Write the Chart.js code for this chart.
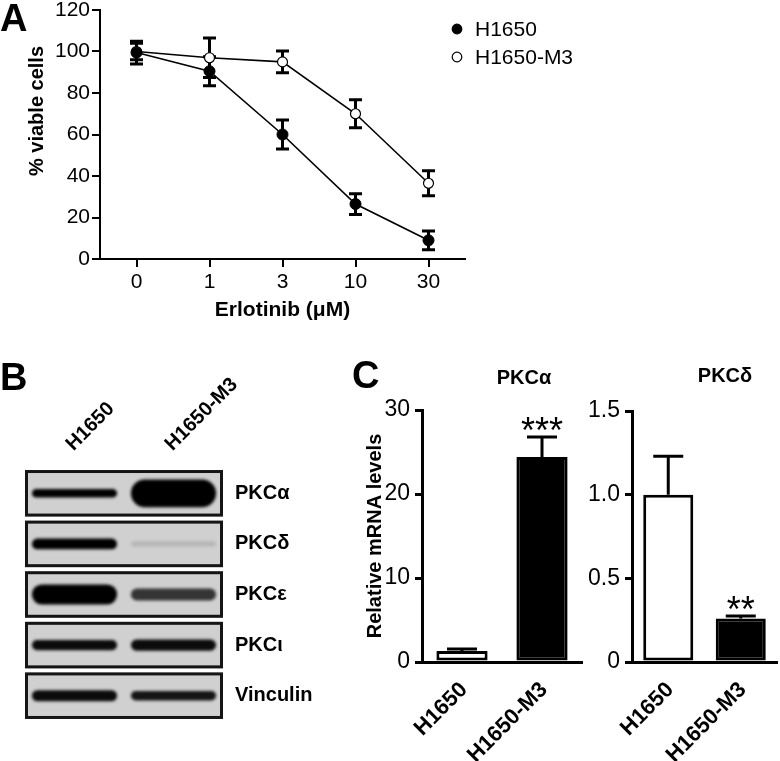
<!DOCTYPE html>
<html>
<head>
<meta charset="utf-8">
<script src="https://cdn.jsdelivr.net/npm/chart.js@4.4.1/dist/chart.umd.min.js"></script>
<style>
  body { margin: 0; background: #fff; }
  #fig { position: relative; width: 780px; height: 761px; overflow: hidden; font-family: "Liberation Sans", Arial, sans-serif; }
  canvas { position: absolute; }
  .letter { position: absolute; font-weight: bold; font-size: 38px; line-height: 1; }
  .ttl { position: absolute; font-weight: bold; font-size: 20px; line-height: 1; transform: translateX(-50%); white-space: nowrap; }
  .ytl { position: absolute; font-weight: bold; font-size: 20px; line-height: 1; white-space: nowrap; transform: translate(-50%, -50%) rotate(-90deg); }
</style>
</head>
<body>
<div id="fig">
  <canvas id="chartA" width="780" height="330" style="left:0;top:0"></canvas>
  <canvas id="chartB" width="350" height="431" style="left:0;top:330px"></canvas>
  <canvas id="chartC1" width="250" height="431" style="left:345px;top:330px"></canvas>
  <canvas id="chartC2" width="210" height="431" style="left:570px;top:330px"></canvas>
  <div class="letter" style="left:0;top:-1px">A</div>
  <div class="letter" style="left:0;top:358px">B</div>
  <div class="letter" style="left:352px;top:356px">C</div>
  <div class="ytl" style="left:36px;top:111px">% viable cells</div>
  <div class="ttl" style="left:524px;top:367px">PKCα</div>
  <div class="ttl" style="left:725px;top:365px">PKCδ</div>
</div>
<script>
// panel A: dose response
const doses = ['0', '1', '3', '10', '30'];
const viabH1650 = [99.5, 90.5, 60, 26.5, 9];
const errH1650 = [5.5, 7, 7, 5, 4.5];
const viabM3 = [100, 97, 95, 70, 36.5];
const errM3 = [4, 9.5, 5.3, 6.7, 6];

// panel B: western blot bands (thickness in row units, darkness 0-1)
const lanes = ['H1650', 'H1650-M3'];
const proteins = ['PKCα', 'PKCδ', 'PKCε', 'PKCι', 'Vinculin'];
const bandThickH1650 = [0.17, 0.21, 0.40, 0.20, 0.22];
const bandThickM3 = [0.55, 0.10, 0.24, 0.22, 0.19];
const bandDarkH1650 = [1, 1, 1, 0.95, 0.95];
const bandDarkM3 = [1, 0.12, 0.75, 0.95, 0.9];

// panel C: relative mRNA
const cellLines = ['H1650', 'H1650-M3'];
const pkcaMrna = [1.3, 24.4];
const pkcaErr = [0.25, 2.4];
const pkcaStars = ['', '***'];
const pkcdMrna = [1.0, 0.26];
const pkcdErr = [0.23, 0.015];
const pkcdStars = ['', '**'];

Chart.defaults.font.family = '"Liberation Sans", Arial, sans-serif';
Chart.defaults.color = '#000';
Chart.defaults.animation = false;

function noPad(s) { s.paddingTop = 0; s.paddingBottom = 0; s.paddingLeft = 0; s.paddingRight = 0; }
function rot45(s) { s.labelRotation = 45; }

const errorBars = {
  id: 'errorBars',
  beforeDatasetsDraw(chart, args, opts) {
    const ctx = chart.ctx;
    ctx.save();
    ctx.strokeStyle = '#000';
    ctx.fillStyle = '#000';
    ctx.lineWidth = opts.lineWidth;
    chart.data.datasets.forEach((ds, i) => {
      if (!ds.errors) return;
      const meta = chart.getDatasetMeta(i);
      const ys = chart.scales[meta.yAxisID];
      meta.data.forEach((el, j) => {
        const v = ds.data[j], e = ds.errors[j];
        const x = el.x;
        const top = ys.getPixelForValue(v + e);
        const bot = ys.getPixelForValue(opts.upOnly ? v : v - e);
        ctx.beginPath();
        ctx.moveTo(x, bot); ctx.lineTo(x, top);
        ctx.moveTo(x - opts.cap, top); ctx.lineTo(x + opts.cap, top);
        if (!opts.upOnly) { ctx.moveTo(x - opts.cap, bot); ctx.lineTo(x + opts.cap, bot); }
        ctx.stroke();
        if (ds.stars && ds.stars[j]) {
          ctx.font = '36px "Liberation Sans", Arial, sans-serif';
          ctx.textAlign = 'center';
          ctx.textBaseline = 'alphabetic';
          ctx.fillText(ds.stars[j], x, top + 6);
        }
      });
    });
    ctx.restore();
  }
};

const sideLegend = {
  id: 'sideLegend',
  afterDraw(chart, args, opts) {
    const ctx = chart.ctx;
    ctx.save();
    chart.data.datasets.forEach((ds, i) => {
      const y = opts.y + i * opts.gap;
      ctx.beginPath();
      ctx.arc(opts.x, y, 4.8, 0, Math.PI * 2);
      ctx.fillStyle = ds.pointBackgroundColor;
      ctx.fill();
      ctx.lineWidth = 1.2;
      ctx.strokeStyle = '#000';
      ctx.stroke();
      ctx.fillStyle = '#000';
      ctx.font = '21px "Liberation Sans", Arial, sans-serif';
      ctx.textBaseline = 'middle';
      ctx.fillText(ds.label, opts.x + 18, y + 1);
    });
    ctx.restore();
  }
};

// panel A
new Chart(document.getElementById('chartA'), {
  type: 'line',
  data: {
    labels: doses,
    datasets: [
      { label: 'H1650', data: viabH1650, errors: errH1650, borderColor: '#000', borderWidth: 1.6,
        pointRadius: 5.5, pointBackgroundColor: '#000', pointBorderColor: '#000', pointBorderWidth: 1 },
      { label: 'H1650-M3', data: viabM3, errors: errM3, borderColor: '#000', borderWidth: 1.6,
        pointRadius: 5, pointBackgroundColor: '#fff', pointBorderColor: '#000', pointBorderWidth: 1.2 }
    ]
  },
  options: {
    responsive: false,
    layout: { padding: { top: 10, right: 315, left: 0, bottom: 0 }, autoPadding: false },
    plugins: {
      legend: { display: false },
      tooltip: { enabled: false },
      errorBars: { lineWidth: 3, cap: 6.5, upOnly: false },
      sideLegend: { x: 457, y: 29, gap: 28 }
    },
    scales: {
      x: {
        offset: true,
        grid: { display: true, drawOnChartArea: false, tickLength: 8, color: '#000', lineWidth: 2, offset: false },
        border: { color: '#000', width: 2 },
        ticks: { font: { size: 21 }, padding: 3, maxRotation: 0 },
        title: { display: true, text: 'Erlotinib (μM)', font: { size: 21, weight: 'bold' }, padding: { top: 0, bottom: 7 } },
        afterFit(s) { s.height = 71; noPad(s); }
      },
      y: {
        min: 0, max: 120,
        grid: { display: true, drawOnChartArea: false, tickLength: 8, color: '#000', lineWidth: 2 },
        border: { color: '#000', width: 2 },
        ticks: { stepSize: 20, font: { size: 21 }, padding: 2 },
        afterFit(s) { s.width = 100; noPad(s); }
      }
    }
  },
  plugins: [errorBars, sideLegend]
});

// panel B
const blotFrames = {
  id: 'blotFrames',
  beforeDatasetsDraw(chart) {
    const { ctx, chartArea, scales: { y } } = chart;
    ctx.save();
    ctx.fillStyle = '#d0d0d0';
    proteins.forEach((p, r) => {
      const t = y.getPixelForValue(r + 0.04), b = y.getPixelForValue(r + 0.96);
      ctx.fillRect(chartArea.left, t, chartArea.right - chartArea.left, b - t);
    });
    ctx.restore();
    ctx.save();
    ctx.filter = 'blur(1.6px)';
  },
  afterDatasetsDraw(chart) {
    const { ctx, chartArea, scales: { y } } = chart;
    ctx.restore();
    ctx.save();
    ctx.strokeStyle = '#151515';
    ctx.lineWidth = 3;
    proteins.forEach((p, r) => {
      const t = y.getPixelForValue(r + 0.04), b = y.getPixelForValue(r + 0.96);
      ctx.strokeRect(chartArea.left + 1.5, t + 1.5, chartArea.right - chartArea.left - 3, b - t - 3);
    });
    ctx.restore();
  }
};

new Chart(document.getElementById('chartB'), {
  type: 'bar',
  data: {
    labels: lanes,
    datasets: proteins.map((p, r) => ({
      label: p,
      data: [
        [r + 0.5 - bandThickH1650[r] / 2, r + 0.5 + bandThickH1650[r] / 2],
        [r + 0.5 - bandThickM3[r] / 2, r + 0.5 + bandThickM3[r] / 2]
      ],
      backgroundColor: [`rgba(0,0,0,${bandDarkH1650[r]})`, `rgba(0,0,0,${bandDarkM3[r]})`],
      borderWidth: 0,
      borderRadius: 100,
      borderSkipped: false,
      grouped: false,
      barPercentage: 0.86,
      categoryPercentage: 1
    }))
  },
  options: {
    responsive: false,
    layout: { padding: { top: 0, right: 0, left: 25, bottom: 40 }, autoPadding: false },
    plugins: { legend: { display: false }, tooltip: { enabled: false } },
    scales: {
      x: {
        position: 'top',
        offset: true,
        grid: { display: false, drawTicks: false },
        border: { display: false },
        ticks: { minRotation: 45, maxRotation: 45, autoSkip: false, font: { size: 20, weight: 'bold' }, padding: 12, labelOffset: 12 },
        afterCalculateLabelRotation: rot45,
        afterFit(s) { s.height = 138; noPad(s); }
      },
      y: {
        position: 'right',
        reverse: true,
        min: 0, max: 5,
        grid: { display: false, drawTicks: false },
        border: { display: false },
        afterBuildTicks(s) { s.ticks = proteins.map((p, i) => ({ value: i + 0.5 })); },
        ticks: { callback: (v, i) => proteins[i], font: { size: 20, weight: 'bold' }, padding: 12 },
        afterFit(s) { s.width = 127; noPad(s); }
      }
    }
  },
  plugins: [blotFrames]
});

// panel C
function mrnaChart(id, values, errs, stars, yMax, step, yWidth, padRight, padTop, barPct, yTitle, tickFmt) {
  return new Chart(document.getElementById(id), {
    type: 'bar',
    data: {
      labels: cellLines,
      datasets: [{
        data: values, errors: errs, stars: stars,
        backgroundColor: ['#fff', '#000'], borderColor: '#000', borderWidth: 3,
        borderSkipped: false, barPercentage: barPct, categoryPercentage: 1
      }]
    },
    options: {
      responsive: false,
      layout: { padding: { top: padTop, right: padRight, left: 0, bottom: 0 }, autoPadding: false },
      plugins: {
        legend: { display: false }, tooltip: { enabled: false },
        errorBars: { lineWidth: 3, cap: 15, upOnly: true }
      },
      scales: {
        x: {
          offset: true,
          grid: { display: false, drawTicks: false },
          border: { color: '#000', width: 3 },
          ticks: { minRotation: 45, maxRotation: 45, autoSkip: false, font: { size: 22, weight: 'bold' }, padding: 15, labelOffset: 2 },
          afterCalculateLabelRotation: rot45,
          afterFit(s) { s.height = 99; noPad(s); }
        },
        y: {
          min: 0, max: yMax,
          grid: { display: true, drawOnChartArea: false, tickLength: 7, color: '#000', lineWidth: 3 },
          border: { color: '#000', width: 3 },
          ticks: { stepSize: step, font: { size: 23 }, padding: 5, callback: tickFmt },
          title: { display: !!yTitle, text: yTitle, font: { size: 20, weight: 'bold' }, padding: { top: 18, bottom: 0 } },
          afterFit(s) { s.width = yWidth; noPad(s); }
        }
      }
    },
    plugins: [errorBars]
  });
}

mrnaChart('chartC1', pkcaMrna, pkcaErr, pkcaStars, 30, 10, 77, 13, 80, 0.64, 'Relative mRNA levels', v => String(v));
mrnaChart('chartC2', pkcdMrna, pkcdErr, pkcdStars, 1.5, 0.5, 62, 3, 81, 0.69, '', v => v === 0 ? '0' : v.toFixed(1));
</script>
</body>
</html>
